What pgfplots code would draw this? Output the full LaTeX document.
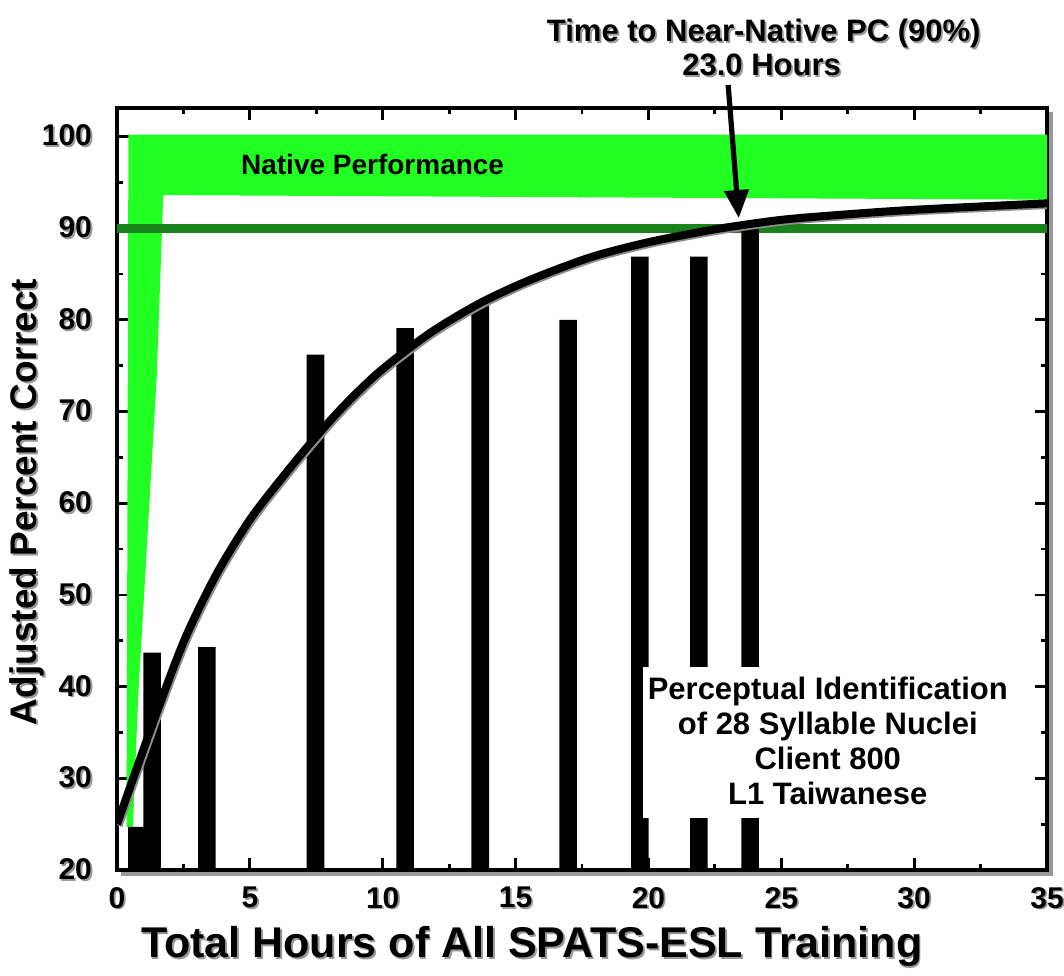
\documentclass[border=0pt]{standalone}
\usepackage{fontspec}
\setmainfont{Liberation Sans}
\usepackage{pgfplots}
\pgfplotsset{compat=1.18}
\usetikzlibrary{arrows.meta}
\definecolor{natgreen}{HTML}{22FF22}
\definecolor{lineg}{HTML}{1A821A}
% text with a grey drop shadow
\newcommand{\shd}[1]{\rlap{\kern0.9pt\raisebox{-0.9pt}{\color{black!40}#1}}#1}
\newcommand{\shdr}[1]{\rlap{\kern-0.9pt\raisebox{-0.9pt}{\color{black!40}#1}}#1}

\begin{document}
\begin{tikzpicture}
\begin{axis}[
  scale only axis, width=465pt, height=381pt,
  xmin=0, xmax=35, ymin=20, ymax=103.1,
  xtick={0,5,...,35}, ytick={20,30,...,100},
  minor xtick={2.5,7.5,...,32.5}, minor ytick={25,35,...,95},
  xtick pos=both, ytick pos=both,
  tick align=inside,
  major tick length=6pt, minor tick length=3pt,
  every tick/.style={line width=1.4pt, black},
  axis line style={line width=2.4pt},
  /pgf/number format/assume math mode=true,
  xticklabel={\shd{\pgfmathprintnumber{\tick}}},
  yticklabel={\shd{\pgfmathprintnumber{\tick}}},
  tick label style={font=\fontsize{15}{15}\selectfont\bfseries},
  xticklabel style={yshift=-5pt},
  yticklabel style={xshift=-9pt},
  xlabel={\shd{Total Hours of All SPATS-ESL Training}},
  ylabel={\shdr{Adjusted Percent Correct}},
  xlabel style={font=\fontsize{21.5}{21.5}\selectfont\bfseries,
    at={([yshift=-44pt]axis description cs:0.446,0)}, anchor=base},
  ylabel style={font=\fontsize{18.5}{18.5}\selectfont\bfseries,
    at={([xshift=-44.5pt]axis description cs:0,0.483)}, anchor=center},
]
% native performance band
\addplot[fill=natgreen, draw=none] coordinates {
  (0.43,100.2)(35,100.2)(35,93.1)(1.74,93.6)(1.5,74)(0.79,38.5)(0.6,24.7)(0.36,24.7)} -- cycle;
% 90% criterion
\addplot[lineg, line width=4.5pt] coordinates {(0,90)(35,90)};
% session scores
\addplot[ybar, bar width=0.66, bar shift=0pt, fill=black, draw=none] coordinates {
  (0.75,24.7)(1.32,43.7)(3.38,44.3)(7.47,76.2)(10.84,79.1)(13.67,81.8)
  (16.98,80.0)(19.68,86.9)(21.9,86.9)(23.83,90)};
% label box
\addplot[fill=white, draw=none] coordinates {
  (19.8,42.1)(33.9,42.1)(33.9,25.7)(19.8,25.7)} -- cycle;
% fitted learning curve
\addplot[black!45, line width=4pt, smooth, xshift=0.8pt, yshift=-0.8pt] coordinates {
  (0,25)(1.6,38)(2.6,45.5)(3.75,52.3)(5,58.2)(6.25,62.9)(7.3,66.6)(8.5,70.5)
  (9.9,74.4)(11.8,78.6)(13.65,81.8)(15.5,84.3)(17.8,86.8)(19.9,88.4)(21.8,89.5)
  (23,90.1)(25,90.9)(27,91.4)(30,92)(35,92.7)};
\addplot[black, line width=4pt, smooth] coordinates {
  (0,25)(1.6,38)(2.6,45.5)(3.75,52.3)(5,58.2)(6.25,62.9)(7.3,66.6)(8.5,70.5)
  (9.9,74.4)(11.8,78.6)(13.65,81.8)(15.5,84.3)(17.8,86.8)(19.9,88.4)(21.8,89.5)
  (23,90.1)(25,90.9)(27,91.4)(30,92)(35,92.7)};

\node[font=\fontsize{14}{14}\selectfont\bfseries] at (axis cs:9.62,96.9) {Native Performance};
\node[font=\fontsize{15.5}{17.5}\selectfont\bfseries, align=center] at (axis cs:26.75,34.1)
  {Perceptual Identification\\of 28 Syllable Nuclei\\Client 800\\L1 Taiwanese};

\coordinate (atip) at (axis cs:23.4,91.1);
\coordinate (atail) at (axis cs:23.0,105.6);
\coordinate (t1) at (axis cs:24.34,110.3);
\coordinate (t2) at (axis cs:24.26,106.6);
\coordinate (ll) at (rel axis cs:0,0);
\coordinate (lr) at (rel axis cs:1,0);
\coordinate (ur) at (rel axis cs:1,1);
\end{axis}
\draw[black!40, line width=1.6pt] ([shift={(2pt,-2pt)}]ll) -- ([shift={(2pt,-2pt)}]lr) -- ([shift={(2pt,-2pt)}]ur);
\draw[line width=2.6pt, -{Triangle[length=14pt, width=12pt]}] (atail) -- (atip);
\node[anchor=base, font=\fontsize{15.5}{15.5}\selectfont\bfseries] at (t1) {\shd{Time to Near-Native PC (90\%)}};
\node[anchor=base, font=\fontsize{15.5}{15.5}\selectfont\bfseries] at (t2) {\shd{23.0 Hours}};
\pgfresetboundingbox
\path ([shift={(-58.5pt,-53pt)}]ll) rectangle ([shift={(8.5pt,54pt)}]ur);
\end{tikzpicture}
\end{document}
